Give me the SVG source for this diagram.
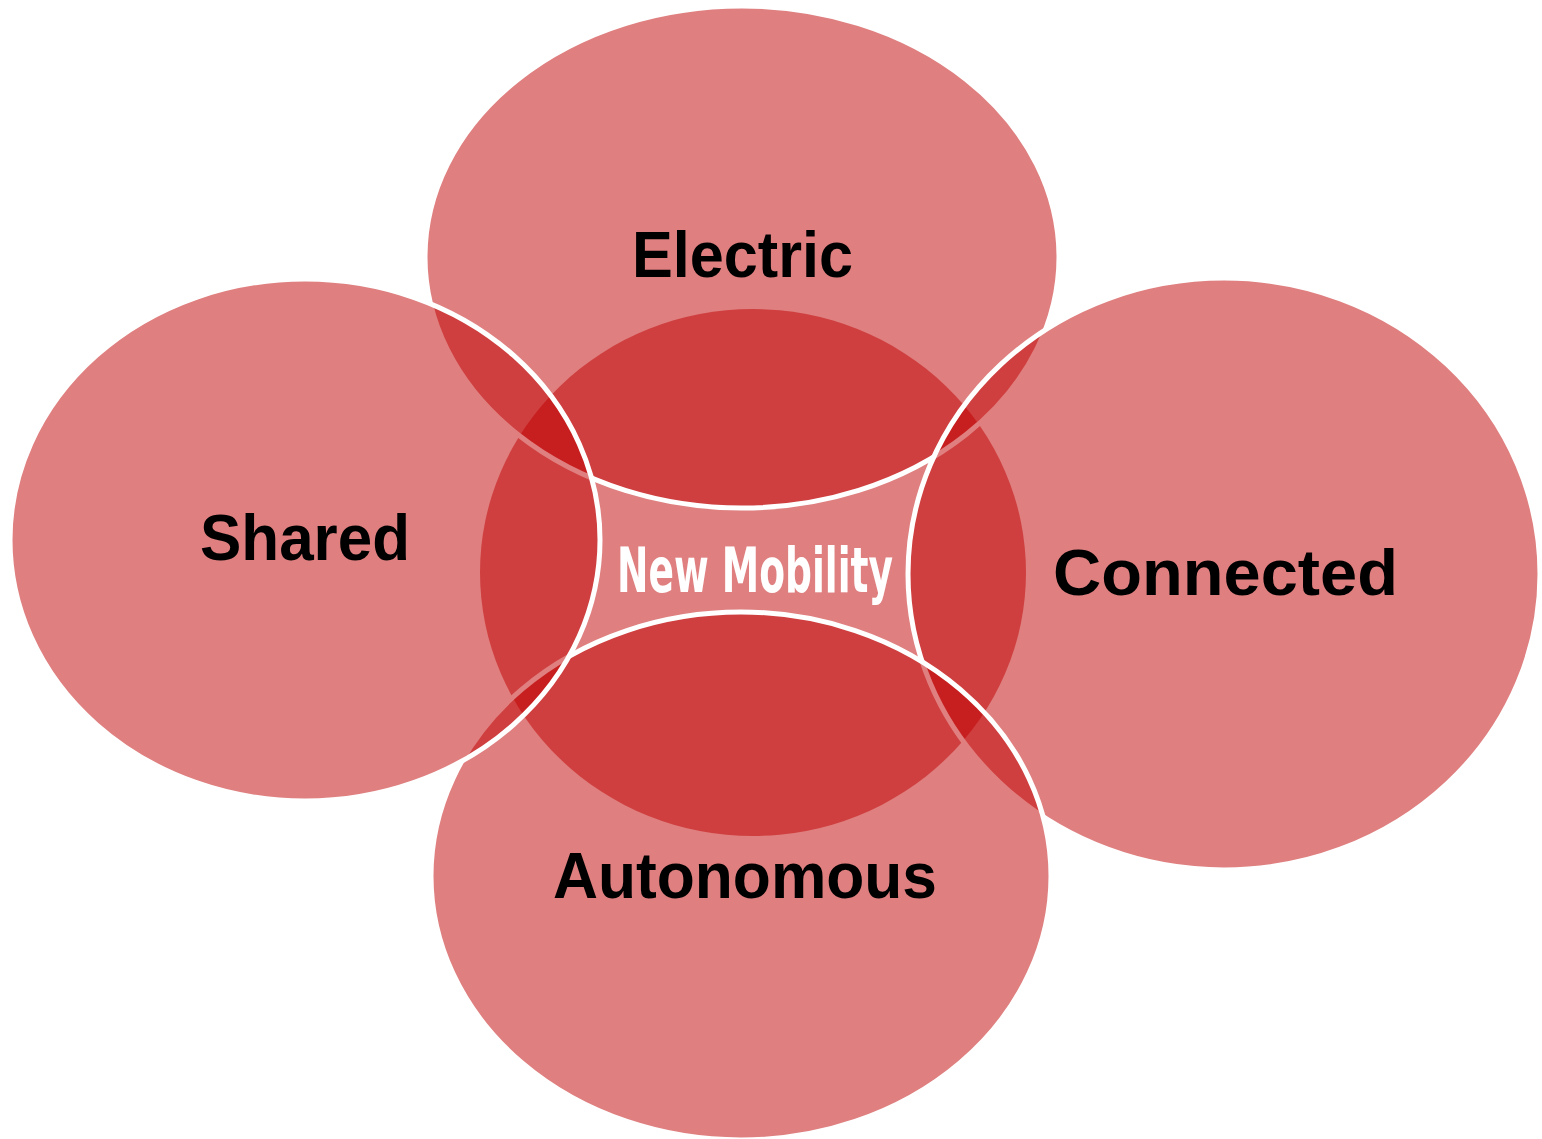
<svg xmlns="http://www.w3.org/2000/svg" width="1542" height="1139" viewBox="0 0 1542 1139">
  <style>
    .shape { fill: #C00000; fill-opacity: 0.5; stroke: #FFFFFF; stroke-width: 5; }
    .center { fill: #C00000; fill-opacity: 0.5; stroke: none; }
    .label { font-family: "Liberation Sans", "DejaVu Sans", sans-serif; font-weight: 700; font-size: 64px; fill: #000000; text-anchor: middle; }
    .core { font-family: "Liberation Sans Narrow", "DejaVu Sans Condensed", "Liberation Sans", sans-serif; font-weight: 700; font-size: 62px; fill: #FFFFFF; text-anchor: middle; }
  </style>
  <rect x="0" y="0" width="1542" height="1139" fill="#FFFFFF"/>
  <g id="new-mobility">
    <ellipse class="center" cx="753" cy="572.5" rx="273" ry="263.5"/>
    <text class="core" x="755" y="592" textLength="276" lengthAdjust="spacingAndGlyphs">New Mobility</text>
  </g>
  <g id="electric">
    <ellipse class="shape" cx="742" cy="257" rx="317" ry="251"/>
    <text class="label" x="742.5" y="277" textLength="221" lengthAdjust="spacingAndGlyphs">Electric</text>
  </g>
  <g id="connected">
    <ellipse class="shape" cx="1224" cy="574" rx="316" ry="296"/>
    <text class="label" x="1225.5" y="595" textLength="345" lengthAdjust="spacingAndGlyphs">Connected</text>
  </g>
  <g id="autonomous">
    <ellipse class="shape" cx="741" cy="876" rx="310" ry="264"/>
    <text class="label" x="745" y="898" textLength="384" lengthAdjust="spacingAndGlyphs">Autonomous</text>
  </g>
  <g id="shared">
    <ellipse class="shape" cx="305" cy="540" rx="295" ry="261"/>
    <text class="label" x="305" y="560" textLength="210" lengthAdjust="spacingAndGlyphs">Shared</text>
  </g>
</svg>
